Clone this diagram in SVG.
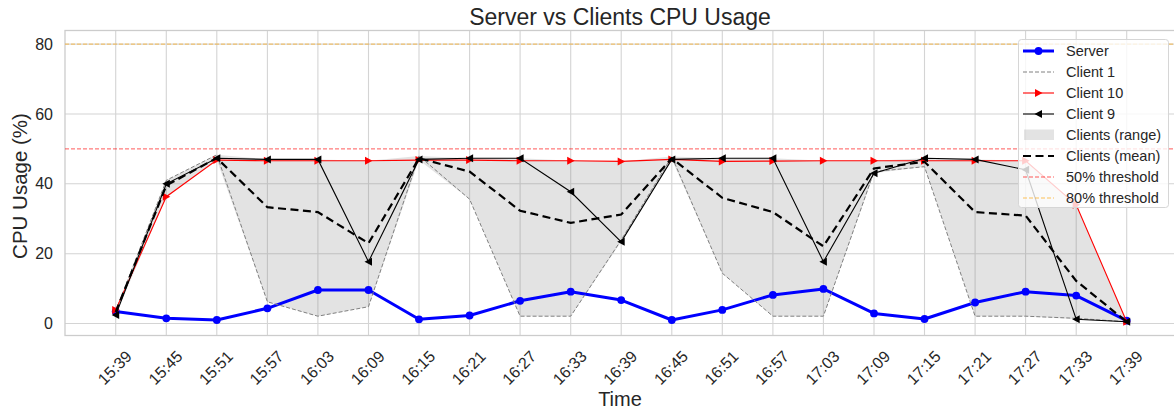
<svg xmlns="http://www.w3.org/2000/svg" width="1174" height="412" viewBox="0 0 1174 412">
<style>
text{font-family:"Liberation Sans",Arial,sans-serif;fill:#262626}
.grid{stroke:#d4d4d4;stroke-width:1.1;fill:none}
.tick{font-size:16px}
.xt{font-size:16px;text-anchor:middle}
.leg{font-size:14.5px}
.srv{fill:none;stroke:#0000ff;stroke-width:3;stroke-linejoin:round}
.c1{fill:none;stroke:#808080;stroke-width:1;stroke-dasharray:4,2}
.c10{fill:none;stroke:#ff0000;stroke-width:1.1}
.c9{fill:none;stroke:#000;stroke-width:1.1}
.mean{fill:none;stroke:#000;stroke-width:2.2;stroke-dasharray:8,4.5}
.th50{fill:none;stroke:#ff0000;stroke-opacity:0.65;stroke-width:1;stroke-dasharray:4,2}
.th80{fill:none;stroke:#ffa500;stroke-opacity:0.65;stroke-width:1;stroke-dasharray:4,2}
.rng{fill:#808080;fill-opacity:0.22;stroke:none}
</style>
<defs>
<marker id="mc" viewBox="-5 -5 10 10" markerWidth="10" markerHeight="10" refX="0" refY="0" markerUnits="userSpaceOnUse" orient="0"><circle r="3.9" fill="#0000ff"/></marker>
<marker id="mr" viewBox="-5 -5 10 10" markerWidth="10" markerHeight="10" refX="0" refY="0" markerUnits="userSpaceOnUse" orient="0"><polygon points="4,0 -3.5,-4 -3.5,4" fill="#ff0000"/></marker>
<marker id="ml" viewBox="-5 -5 10 10" markerWidth="10" markerHeight="10" refX="0" refY="0" markerUnits="userSpaceOnUse" orient="0"><polygon points="-4,0 3.5,-4 3.5,4" fill="#000"/></marker>
</defs>
<rect width="1174" height="412" fill="#fff"/>
<g id="grid">
<path class="grid" d="M65,323.5H1177M65,253.7H1177M65,183.8H1177M65,114H1177M65,44.1H1177"/>
<path class="grid" d="M115.7,30.5V335.5M166.3,30.5V335.5M216.8,30.5V335.5M267.4,30.5V335.5M317.9,30.5V335.5M368.5,30.5V335.5M419,30.5V335.5M469.6,30.5V335.5M520.1,30.5V335.5M570.7,30.5V335.5M621.2,30.5V335.5M671.8,30.5V335.5M722.3,30.5V335.5M772.9,30.5V335.5M823.4,30.5V335.5M874,30.5V335.5M924.5,30.5V335.5M975.1,30.5V335.5M1025.6,30.5V335.5M1076.2,30.5V335.5M1126.7,30.5V335.5"/>
<rect x="65" y="30.5" width="1112" height="305" fill="none" stroke="#cccccc" stroke-width="1.3"/>
</g>
<g id="yticks" class="tick" text-anchor="end">
<text x="53" y="329">0</text>
<text x="53" y="259.2">20</text>
<text x="53" y="189.3">40</text>
<text x="53" y="119.5">60</text>
<text x="53" y="49.6">80</text>
</g>
<g id="xticks" class="xt">
<text transform="translate(114.7,367.5) rotate(-45)" y="5.7">15:39</text>
<text transform="translate(165.3,367.5) rotate(-45)" y="5.7">15:45</text>
<text transform="translate(215.8,367.5) rotate(-45)" y="5.7">15:51</text>
<text transform="translate(266.4,367.5) rotate(-45)" y="5.7">15:57</text>
<text transform="translate(316.9,367.5) rotate(-45)" y="5.7">16:03</text>
<text transform="translate(367.5,367.5) rotate(-45)" y="5.7">16:09</text>
<text transform="translate(418,367.5) rotate(-45)" y="5.7">16:15</text>
<text transform="translate(468.6,367.5) rotate(-45)" y="5.7">16:21</text>
<text transform="translate(519.1,367.5) rotate(-45)" y="5.7">16:27</text>
<text transform="translate(569.7,367.5) rotate(-45)" y="5.7">16:33</text>
<text transform="translate(620.2,367.5) rotate(-45)" y="5.7">16:39</text>
<text transform="translate(670.8,367.5) rotate(-45)" y="5.7">16:45</text>
<text transform="translate(721.3,367.5) rotate(-45)" y="5.7">16:51</text>
<text transform="translate(771.9,367.5) rotate(-45)" y="5.7">16:57</text>
<text transform="translate(822.4,367.5) rotate(-45)" y="5.7">17:03</text>
<text transform="translate(873,367.5) rotate(-45)" y="5.7">17:09</text>
<text transform="translate(923.5,367.5) rotate(-45)" y="5.7">17:15</text>
<text transform="translate(974.1,367.5) rotate(-45)" y="5.7">17:21</text>
<text transform="translate(1024.6,367.5) rotate(-45)" y="5.7">17:27</text>
<text transform="translate(1075.2,367.5) rotate(-45)" y="5.7">17:33</text>
<text transform="translate(1125.7,367.5) rotate(-45)" y="5.7">17:39</text>
</g>
<g id="labels">
<text x="620" y="25" font-size="23" text-anchor="middle">Server vs Clients CPU Usage</text>
<text x="620" y="406" font-size="20" text-anchor="middle">Time</text>
<text transform="translate(26.5,186) rotate(-90)" font-size="20.5" text-anchor="middle">CPU Usage (%)</text>
</g>
<g id="connectors">
<polygon id="clients-range" class="rng" points="115.7,309.9 166.3,180.3 216.8,154.8 267.4,159.4 317.9,159.4 368.5,160.8 419,155.9 469.6,158.3 520.1,158.3 570.7,160.8 621.2,161.4 671.8,156.6 722.3,158.3 772.9,158.3 823.4,160.8 874,160.8 924.5,158.3 975.1,159.4 1025.6,160.8 1076.2,204.8 1126.7,321.8 1076.2,319.3 1025.6,316.2 975.1,316.2 924.5,166.7 874,173.3 823.4,316.2 772.9,316.2 722.3,273.2 671.8,159.4 621.2,241.8 570.7,316.2 520.1,316.2 469.6,199.2 419,160.1 368.5,306.7 317.9,316.2 267.4,301.8 216.8,160.1 166.3,196.7 115.7,315.1"/>
<polyline id="server" class="srv" marker-start="url(#mc)" marker-mid="url(#mc)" marker-end="url(#mc)" points="115.7,311.6 166.3,318.3 216.8,320 267.4,308.3 317.9,290 368.5,290 419,319.3 469.6,315.5 520.1,300.8 570.7,291.7 621.2,300.1 671.8,320 722.3,309.9 772.9,294.9 823.4,288.9 874,313.4 924.5,319 975.1,302.5 1025.6,291.7 1076.2,295.6 1126.7,320.7"/>
<polyline id="client1" class="c1" points="115.7,311.3 166.3,180.3 216.8,154.8 267.4,301.8 317.9,316.2 368.5,306.7 419,155.9 469.6,199.2 520.1,316.2 570.7,316.2 621.2,240 671.8,156.6 722.3,273.2 772.9,316.2 823.4,316.2 874,171.6 924.5,166.7 975.1,316.2 1025.6,316.2 1076.2,318.3 1126.7,321.8"/>
<polyline id="client10" class="c10" marker-start="url(#mr)" marker-mid="url(#mr)" marker-end="url(#mr)" points="115.7,309.9 166.3,196.7 216.8,160.1 267.4,160.8 317.9,160.8 368.5,160.8 419,160.1 469.6,160.1 520.1,160.8 570.7,160.8 621.2,161.4 671.8,159.4 722.3,161.4 772.9,161.1 823.4,160.8 874,160.8 924.5,160.8 975.1,160.8 1025.6,160.8 1076.2,204.8 1126.7,321.8"/>
<polyline id="client9" class="c9" marker-start="url(#ml)" marker-mid="url(#ml)" marker-end="url(#ml)" points="115.7,315.1 166.3,183.8 216.8,158.3 267.4,159.4 317.9,159.4 368.5,261.7 419,159.4 469.6,158.3 520.1,158.3 570.7,191.8 621.2,241.8 671.8,159.4 722.3,158.3 772.9,158.3 823.4,261.7 874,173.3 924.5,158.3 975.1,159.4 1025.6,169.8 1076.2,319.3 1126.7,321.8"/>
<polyline id="clients-mean" class="mean" points="115.7,312 166.3,185.5 216.8,158 267.4,207.2 317.9,212.1 368.5,243.2 419,158.3 469.6,171.6 520.1,210.7 570.7,222.9 621.2,214.5 671.8,158.3 722.3,197.8 772.9,212.1 823.4,246.3 874,168.4 924.5,161.8 975.1,212.1 1025.6,215.6 1076.2,280.9 1126.7,321.8"/>
<line id="threshold50" class="th50" x1="65" y1="148.9" x2="1177" y2="148.9"/>
<line id="threshold80" class="th80" x1="65" y1="44.1" x2="1177" y2="44.1"/>
</g>
<g id="legend">
<rect x="1018.5" y="39.5" width="150" height="168" rx="3" fill="#fff" fill-opacity="0.8" stroke="#d6d6d6" stroke-width="1"/>
<g id="leg-server"><line class="srv" x1="1023" y1="51" x2="1054" y2="51"/><circle cx="1038.5" cy="51" r="3.9" fill="#0000ff"/><text class="leg" x="1066" y="56">Server</text></g>
<g id="leg-client1"><line class="c1" x1="1023" y1="72" x2="1054" y2="72"/><text class="leg" x="1066" y="77">Client 1</text></g>
<g id="leg-client10"><line class="c10" x1="1023" y1="93" x2="1054" y2="93"/><polygon points="1042.5,93 1035,89 1035,97" fill="#ff0000"/><text class="leg" x="1066" y="98">Client 10</text></g>
<g id="leg-client9"><line class="c9" x1="1023" y1="114" x2="1054" y2="114"/><polygon points="1034.5,114 1042,110 1042,118" fill="#000"/><text class="leg" x="1066" y="119">Client 9</text></g>
<g id="leg-range"><rect class="rng" x="1024" y="129.5" width="30" height="10.5"/><text class="leg" x="1066" y="140">Clients (range)</text></g>
<g id="leg-mean"><line class="mean" x1="1023" y1="156" x2="1054" y2="156"/><text class="leg" x="1066" y="161">Clients (mean)</text></g>
<g id="leg-th50"><line class="th50" x1="1023" y1="177" x2="1054" y2="177"/><text class="leg" x="1066" y="182">50% threshold</text></g>
<g id="leg-th80"><line class="th80" x1="1023" y1="198" x2="1054" y2="198"/><text class="leg" x="1066" y="203">80% threshold</text></g>
</g>
</svg>
